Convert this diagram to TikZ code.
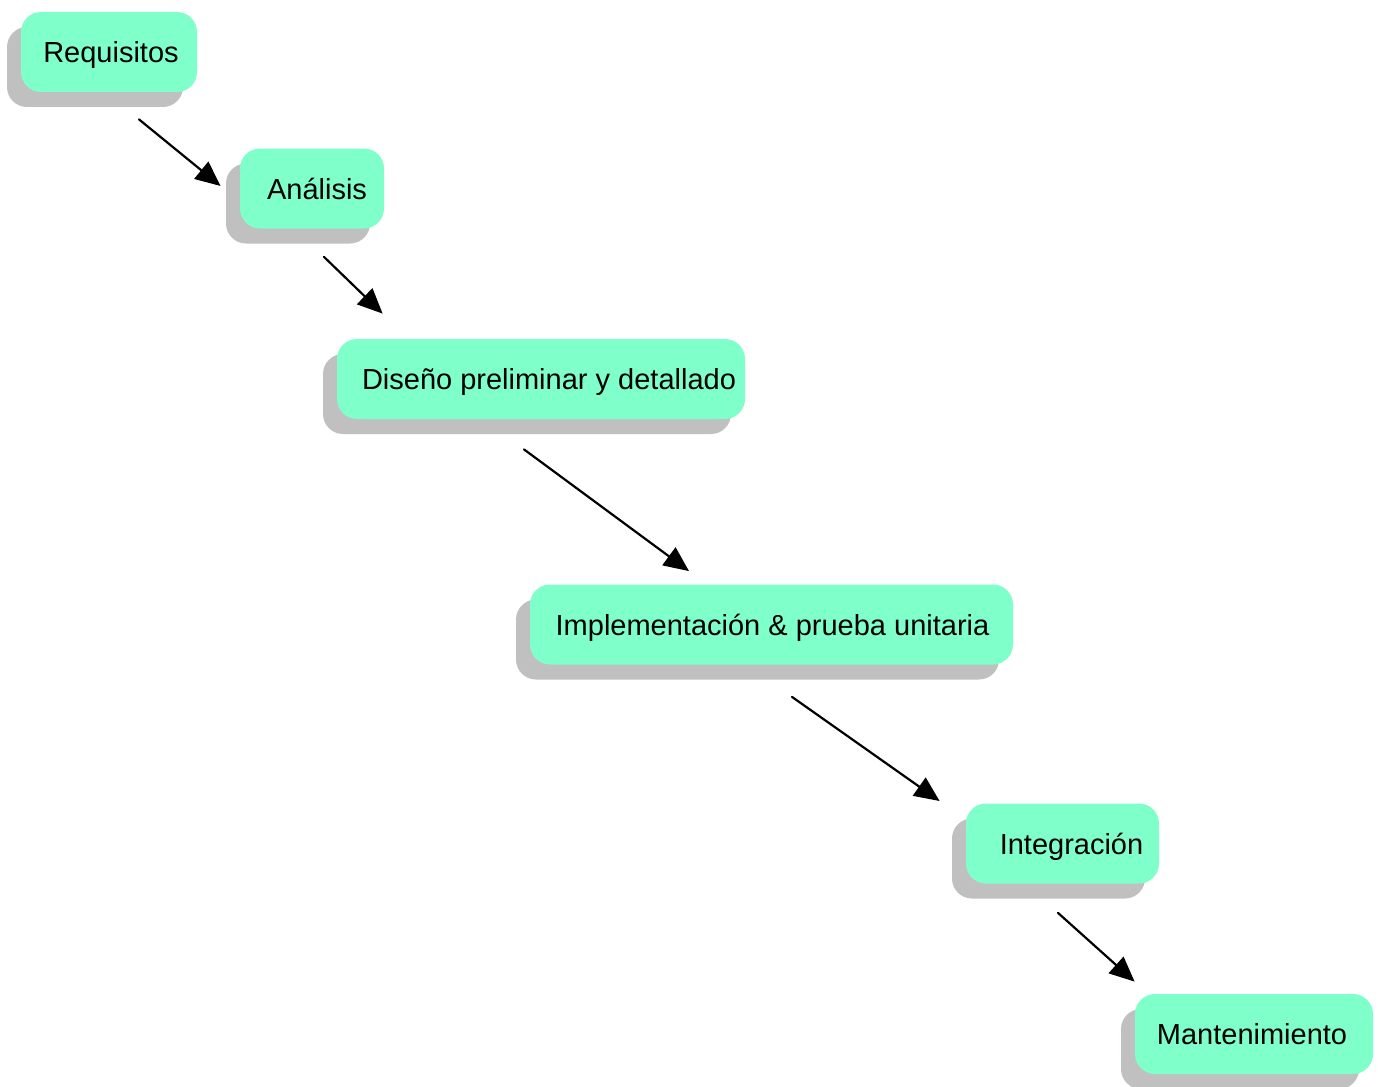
\documentclass[tikz,border=0pt]{standalone}
\usepackage{fontspec}
\setmainfont{Liberation Sans}
\usetikzlibrary{arrows.meta,shadows,calc}
\definecolor{fase}{RGB}{127,255,202}
\definecolor{sombra}{RGB}{192,192,192}
\begin{document}
\begin{tikzpicture}[x=0.5pt, y=-0.5pt, line cap=round, line join=round,
	etapa/.style={fill=fase, rounded corners=10pt, inner sep=0pt, minimum height=40pt,
		text depth=0pt, font=\fontsize{14.5}{17}\selectfont,
		drop shadow={shadow xshift=-7pt, shadow yshift=-7.5pt, fill=sombra, opacity=1}},
	flujo/.style={line width=1.1pt, -{Triangle[length=12.5pt, width=11pt]}}]
			% Window of the picture, in pixels of the reference
			\useasboundingbox (0,0) rectangle (1380,1086);
			
			% Phases of the cascade
			\node[etapa, minimum width=88pt] (req) at (109,52) {\hspace*{2pt}Requisitos};
			\node[etapa, minimum width=72pt] (ana) at (312,188.5) {\hspace*{5pt}Análisis};
			\node[etapa, minimum width=204pt] (dis) at (541,379) {\hspace*{8pt}Diseño preliminar y detallado};
			\node[etapa, minimum width=241.5pt] (imp) at (771.5,624.5) {\hspace*{1pt}Implementación \& prueba unitaria};
			\node[etapa, minimum width=96.5pt] (int) at (1062.5,843.5) {\hspace*{9pt}Integración};
			\node[etapa, minimum width=119pt] (man) at (1254,1034) {Mantenimiento\hspace*{2pt}};
			
			% Arrows between phases
			\draw[flujo] ($(req.south)+(30,27)$) -- ($(ana.west)+(-19,-2.5)$);
			\draw[flujo] ($(ana.south)+(12,28)$) -- ($(dis.north west)+(46,-25)$);
			\draw[flujo] ($(dis.south)+(-17,30)$) -- ($(imp.north)+(-82.5,-13)$);
			\draw[flujo] ($(imp.south)+(20.5,32)$) -- ($(int.west)+(-26,-42.5)$);
			\draw[flujo] ($(int.south)+(-4.5,29)$) -- ($(man.north west)+(0,-12)$);
		\end{tikzpicture}
\end{document}
